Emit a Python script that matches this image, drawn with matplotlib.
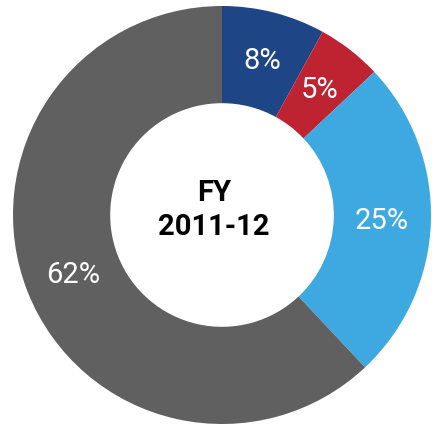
import numpy as np
import matplotlib.pyplot as plt

labels = ['8%', '5%', '25%', '62%']
values = [8, 5, 25, 62]
colors = ['#1e4687', '#be2331', '#3ea9e0', '#606060']
center_text = 'FY\n2011-12'

plt.rcParams['font.family'] = ['Roboto', 'DejaVu Sans']

fig = plt.figure(figsize=(4.32, 4.27), dpi=100)
ax = fig.add_axes([0, 0, 1, 1])

wedges, texts = ax.pie(values, colors=colors, startangle=90, counterclock=False,
                       radius=1.0, wedgeprops=dict(width=0.465, linewidth=0))

# circle centre ~ (222, 216) px, outer radius ~209 px
R = 209.0
ax.set_xlim(-222 / R, (432 - 222) / R)
ax.set_ylim(-(427 - 216) / R, 216 / R)
ax.set_aspect('equal')
ax.axis('off')

cum = np.cumsum([0] + values[:-1])
for lab, v, c in zip(labels, values, cum):
    ang = np.deg2rad(90 - (c + v / 2) / 100 * 360)
    ax.text(0.765 * np.cos(ang), 0.765 * np.sin(ang), lab, color='white',
            fontsize=21, ha='center', va='center')

ax.text(-8 / R, 6 / R, center_text, ha='center', va='center', fontsize=21,
        fontweight='bold', linespacing=1.3)

fig.savefig('out.png', dpi=100)
